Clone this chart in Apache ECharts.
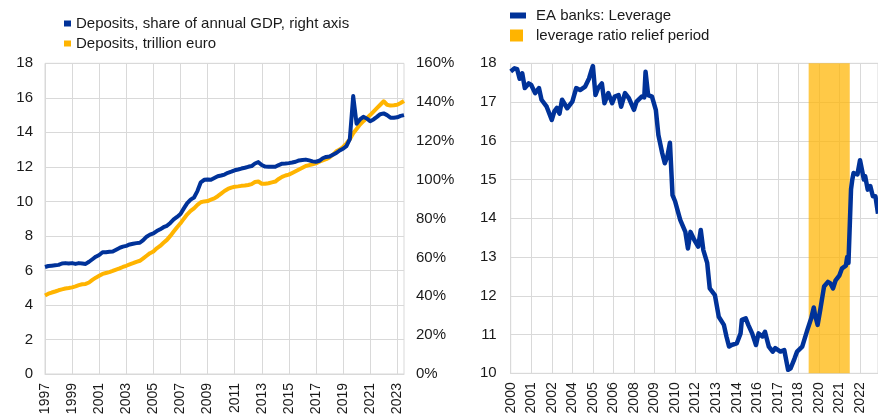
<!DOCTYPE html>
<html>
<head>
<meta charset="utf-8">
<script src="https://cdn.jsdelivr.net/npm/echarts@6/dist/echarts.min.js"></script>
<style>
html,body{margin:0;padding:0;background:#fff;}
#c{width:878px;height:419px;}
</style>
</head>
<body>
<div id="c"></div>
<script>
// ---------- Left chart: deposits (quarterly, 1997Q1 .. 2023Q3) ----------
const depStartYear = 1997, depEndYear = 2023, depEndQuarter = 3;
const depLeftTicks = [0, 2, 4, 6, 8, 10, 12, 14, 16, 18];
const depRightTicks = [0, 20, 40, 60, 80, 100, 120, 140, 160];
// Deposits, share of annual GDP (%), right axis
const depShareGDP = [
  55.1, 55.6, 55.8, 56.0, 56.2, 56.9, 57.1, 56.9, 57.1, 56.7, 57.1, 56.9,
  56.7, 57.8, 59.1, 60.4, 61.3, 62.7, 62.7, 62.9, 63.1, 64.0, 64.9, 65.6,
  66.0, 66.7, 67.1, 67.4, 67.6, 68.9, 70.7, 71.8, 72.4, 73.6, 74.5, 75.6,
  76.3, 77.8, 79.6, 80.9, 82.4, 85.3, 88.0, 89.8, 90.9, 94.2, 98.7, 100.0,
  100.2, 100.0, 100.9, 101.8, 102.2, 102.7, 103.6, 104.2, 104.9, 105.3, 105.8, 106.2,
  106.7, 107.1, 108.4, 109.1, 107.6, 106.8, 106.7, 106.7, 106.7, 107.6, 108.3, 108.4,
  108.6, 108.9, 109.3, 110.0, 110.2, 110.4, 110.0, 109.5, 109.3, 109.8, 111.1, 111.8,
  112.0, 112.9, 113.8, 115.1, 116.0, 117.3, 120.9, 143.1, 128.9, 131.1, 132.4, 131.6,
  130.2, 131.1, 132.4, 133.8, 134.2, 133.3, 132.0, 132.0, 132.2, 132.9, 133.3
];
// Deposits, trillion euro, left axis
const depTrillion = [
  4.55, 4.65, 4.72, 4.78, 4.85, 4.90, 4.95, 4.98, 5.02, 5.08, 5.15, 5.20,
  5.22, 5.30, 5.45, 5.58, 5.69, 5.80, 5.85, 5.90, 5.97, 6.05, 6.12, 6.20,
  6.27, 6.35, 6.42, 6.50, 6.56, 6.70, 6.85, 7.00, 7.10, 7.28, 7.42, 7.60,
  7.77, 8.00, 8.25, 8.50, 8.73, 9.00, 9.25, 9.45, 9.60, 9.80, 9.95, 10.00,
  10.02, 10.10, 10.17, 10.30, 10.45, 10.60, 10.72, 10.80, 10.85, 10.87, 10.90, 10.92,
  10.95, 11.00, 11.12, 11.15, 11.02, 11.02, 11.05, 11.10, 11.15, 11.30, 11.42, 11.50,
  11.55, 11.65, 11.75, 11.85, 11.95, 12.05, 12.10, 12.15, 12.20, 12.30, 12.38, 12.45,
  12.55, 12.70, 12.90, 13.00, 13.15, 13.35, 13.60, 13.95, 14.20, 14.45, 14.65, 14.82,
  15.00, 15.20, 15.40, 15.60, 15.80, 15.60, 15.55, 15.57, 15.60, 15.70, 15.82
];

// ---------- Right chart: EA banks leverage (monthly axis 2000-01 .. 2023-11) ----------
const levStart = [2000, 1], levEnd = [2023, 11];
const levTicks = [10, 11, 12, 13, 14, 15, 16, 17, 18];
const levDates = [
  '2000-01','2000-04','2000-06','2000-08','2000-10','2000-12','2001-03','2001-05','2001-08','2001-11',
  '2002-01','2002-05','2002-09','2002-11','2003-01','2003-03','2003-05','2003-09','2004-01','2004-04',
  '2004-07','2004-11','2005-02','2005-04','2005-05','2005-07','2005-09','2005-12','2006-02','2006-05',
  '2006-08','2006-10','2007-01','2007-03','2007-06','2007-09','2008-01','2008-03','2008-07','2008-09',
  '2008-10','2008-12','2009-03','2009-06','2009-08','2009-11','2010-01','2010-03','2010-05','2010-07',
  '2010-09','2010-11','2011-01','2011-05','2011-07','2011-09','2011-12','2012-03','2012-05','2012-07',
  '2012-10','2012-12','2013-04','2013-07','2013-11','2014-01','2014-03','2014-05','2014-09','2014-12',
  '2015-01','2015-04','2015-06','2015-09','2015-12','2016-02','2016-05','2016-07','2016-10','2017-01',
  '2017-03','2017-07','2017-10','2017-11','2018-01','2018-03','2018-06','2018-08','2018-12','2019-04',
  '2019-07','2019-09','2019-10','2019-12','2020-02','2020-05','2020-08','2020-10','2020-12','2021-02',
  '2021-05','2021-07','2021-10','2021-11','2021-12','2022-01','2022-02','2022-03','2022-04','2022-07',
  '2022-09','2022-10','2022-12','2023-01','2023-03','2023-05','2023-07','2023-09','2023-11'
];
const levValues = [
  17.79, 17.87, 17.85, 17.60, 17.74, 17.36, 17.48, 17.44, 17.23, 17.36,
  17.06, 16.88, 16.54, 16.76, 16.85, 16.70, 17.06, 16.84, 17.01, 17.36,
  17.31, 17.40, 17.61, 17.83, 17.93, 17.18, 17.36, 17.48, 16.97, 17.23,
  16.97, 17.14, 17.18, 16.88, 17.23, 17.10, 16.80, 17.01, 17.14, 17.12,
  17.78, 17.18, 17.14, 16.80, 16.15, 15.68, 15.42, 15.60, 15.95, 14.60,
  14.44, 14.20, 13.96, 13.65, 13.22, 13.65, 13.44, 13.27, 13.70, 13.18,
  12.85, 12.19, 12.02, 11.46, 11.25, 10.95, 10.69, 10.73, 10.77, 11.03,
  11.38, 11.42, 11.25, 11.03, 10.73, 11.03, 10.95, 11.07, 10.69, 10.56,
  10.65, 10.56, 10.60, 10.56, 10.09, 10.13, 10.38, 10.56, 10.69, 11.12,
  11.42, 11.70, 11.50, 11.25, 11.63, 12.24, 12.36, 12.32, 12.19, 12.40,
  12.53, 12.71, 12.78, 13.00, 12.85, 12.90, 14.75, 15.00, 15.17, 15.13,
  15.50, 15.55, 15.00, 15.09, 14.74, 14.83, 14.57, 14.57, 14.12
];
const reliefPeriod = ['2019-09', '2022-03'];

// ---------- categories ----------
const depCats = [];
for (let y = depStartYear; y <= depEndYear; y++) {
  for (let q = 1; q <= 4; q++) {
    if (y === depEndYear && q > depEndQuarter) break;
    depCats.push(y + 'Q' + q);
  }
}
const levCats = [];
for (let y = levStart[0]; y <= levEnd[0]; y++) {
  for (let m = 1; m <= 12; m++) {
    if (y === levStart[0] && m < levStart[1]) continue;
    if (y === levEnd[0] && m > levEnd[1]) break;
    levCats.push(y + '-' + (m < 10 ? '0' + m : m));
  }
}

const BLUE = '#003299', YELLOW = '#FFB400', GRID = '#d9d9d9', TXT = '#1a1a1a';
const FONT = 'Arial, "Liberation Sans", sans-serif';

const chart = echarts.init(document.getElementById('c'), null, {renderer: 'canvas'});
chart.setOption({
  animation: false,
  textStyle: {fontFamily: FONT, color: TXT},
  legend: [
    {
      data: [{name: 'Deposits, share of annual GDP, right axis', icon: 'rect'},
             {name: 'Deposits, trillion euro', icon: 'rect'}],
      orient: 'vertical', left: 59, top: 11, itemWidth: 7, itemHeight: 6, itemGap: 5,
      selectedMode: false,
      textStyle: {fontFamily: FONT, fontSize: 15, color: TXT}
    },
    {
      data: [{name: 'EA banks: Leverage', icon: 'rect'}],
      orient: 'vertical', left: 505, top: 3, itemWidth: 16, itemHeight: 6,
      selectedMode: false,
      textStyle: {fontFamily: FONT, fontSize: 15, color: TXT, padding: [0, 0, 0, 5]}
    },
    {
      data: [{name: 'leverage ratio relief period', icon: 'rect'}],
      orient: 'vertical', left: 505, top: 23, itemWidth: 13, itemHeight: 12,
      selectedMode: false,
      textStyle: {fontFamily: FONT, fontSize: 15, color: TXT, padding: [0, 0, 0, 8]}
    }
  ],
  grid: [
    {left: 45, right: 474, top: 63.3, bottom: 45, show: true, borderColor: GRID, borderWidth: 1},
    {left: 510.7, right: 0, top: 63.3, bottom: 45.7, show: true, borderColor: GRID, borderWidth: 1}
  ],
  xAxis: [
    {
      type: 'category', gridIndex: 0, data: depCats, boundaryGap: false,
      axisLine: {lineStyle: {color: GRID}}, axisTick: {show: false},
      axisLabel: {interval: 7, rotate: 90, margin: 9, fontSize: 14, color: TXT, fontFamily: FONT,
                  formatter: v => v.slice(0, 4)},
      splitLine: {show: true, interval: 7, lineStyle: {color: GRID, width: 1}}
    },
    {
      type: 'category', gridIndex: 1, data: levCats, boundaryGap: false,
      axisLine: {lineStyle: {color: GRID}}, axisTick: {show: false},
      axisLabel: {interval: 15, rotate: 90, margin: 9, fontSize: 14, color: TXT, fontFamily: FONT,
                  formatter: v => v.slice(0, 4)},
      splitLine: {show: true, interval: 15, lineStyle: {color: GRID, width: 1}}
    }
  ],
  yAxis: [
    {
      type: 'value', gridIndex: 0, min: depLeftTicks[0], max: depLeftTicks[depLeftTicks.length - 1],
      interval: depLeftTicks[1] - depLeftTicks[0],
      axisLine: {show: false}, axisTick: {show: false},
      axisLabel: {margin: 12, fontSize: 15, color: TXT, fontFamily: FONT},
      splitLine: {lineStyle: {color: GRID, width: 1}}
    },
    {
      type: 'value', gridIndex: 0, position: 'right', min: depRightTicks[0],
      max: depRightTicks[depRightTicks.length - 1], interval: depRightTicks[1] - depRightTicks[0],
      axisLine: {show: false}, axisTick: {show: false},
      axisLabel: {margin: 12, fontSize: 15, color: TXT, fontFamily: FONT, formatter: '{value}%'},
      splitLine: {show: false}
    },
    {
      type: 'value', gridIndex: 1, min: levTicks[0], max: levTicks[levTicks.length - 1],
      interval: levTicks[1] - levTicks[0],
      axisLine: {show: false}, axisTick: {show: false},
      axisLabel: {margin: 14, fontSize: 15, color: TXT, fontFamily: FONT},
      splitLine: {lineStyle: {color: GRID, width: 1}}
    }
  ],
  series: [
    {
      name: 'Deposits, trillion euro', type: 'line', xAxisIndex: 0, yAxisIndex: 0,
      data: depTrillion, showSymbol: false, symbol: 'none', color: YELLOW,
      lineStyle: {width: 4, color: YELLOW, join: 'round'}, z: 3
    },
    {
      name: 'Deposits, share of annual GDP, right axis', type: 'line', xAxisIndex: 0, yAxisIndex: 1,
      data: depShareGDP, showSymbol: false, symbol: 'none', color: BLUE,
      lineStyle: {width: 4, color: BLUE, join: 'round'}, z: 4
    },
    {
      name: 'leverage ratio relief period', type: 'bar', xAxisIndex: 1, yAxisIndex: 2,
      data: [], color: YELLOW, itemStyle: {color: YELLOW},
      markArea: {
        silent: true,
        itemStyle: {color: YELLOW, opacity: 0.72},
        data: [[{xAxis: reliefPeriod[0]}, {xAxis: reliefPeriod[1]}]]
      },
      z: 1
    },
    {
      name: 'EA banks: Leverage', type: 'line', xAxisIndex: 1, yAxisIndex: 2,
      data: levDates.map((d, i) => [d, levValues[i]]),
      showSymbol: false, symbol: 'none', color: BLUE,
      lineStyle: {width: 4.5, color: BLUE, join: 'round'}, z: 4
    }
  ]
});
</script>
</body>
</html>
